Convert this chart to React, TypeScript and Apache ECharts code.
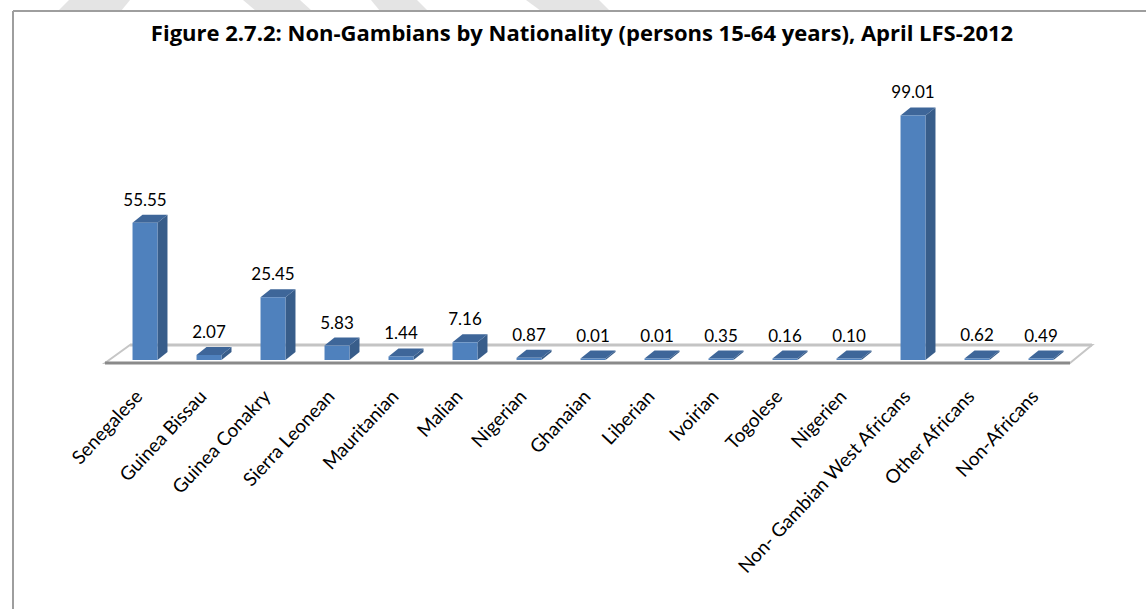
import React, { useEffect, useRef } from "react";
import * as echarts from "echarts";

const categories = [
  "Senegalese",
  "Guinea Bissau",
  "Guinea Conakry",
  "Sierra Leonean",
  "Mauritanian",
  "Malian",
  "Nigerian",
  "Ghanaian",
  "Liberian",
  "Ivoirian",
  "Togolese",
  "Nigerien",
  "Non- Gambian West Africans",
  "Other Africans",
  "Non-Africans",
];

const values = [55.55, 2.07, 25.45, 5.83, 1.44, 7.16, 0.87, 0.01, 0.01, 0.35, 0.16, 0.1, 99.01, 0.62, 0.49];

const titleText = "Figure 2.7.2: Non-Gambians by Nationality (persons 15-64 years), April LFS-2012";

const FONT = "Lato, 'Open Sans', sans-serif";
const TITLE_FONT = "'Open Sans', Lato, sans-serif";

export default function App() {
  const ref = useRef<HTMLDivElement>(null);

  useEffect(() => {
    if (!ref.current) return;
    const chart = echarts.init(ref.current, undefined, { renderer: "svg" });
    const FRONT = "#4F81BD";
    const SIDE = "#385D8A";
    const TOP = "#3E6699";
    const DX = 10;
    const DY = 8;

    const option: any = {
      animation: false,
      backgroundColor: "#ffffff",
      grid: { left: 113, right: 73, top: 113, bottom: 249 },
      xAxis: {
        type: "category",
        data: categories,
        axisLine: { show: false },
        axisTick: { show: false },
        splitLine: { show: false },
        axisLabel: {
          rotate: 47,
          interval: 0,
          margin: 25,
          padding: [0, 10, 0, 0],
          color: "#000",
          fontFamily: FONT,
          fontSize: 19,
        },
      },
      yAxis: {
        type: "value",
        min: 0,
        max: 100,
        show: false,
      },
      graphic: [
        { type: "polygon", shape: { points: [[69, 0], [130, 0], [121, 11], [58, 11]] }, style: { fill: "#E4E4E4" }, silent: true },
        { type: "polygon", shape: { points: [[243, 0], [300, 0], [312, 11], [256, 11]] }, style: { fill: "#E4E4E4" }, silent: true },
        { type: "polygon", shape: { points: [[371, 0], [417, 0], [428, 11], [380, 11]] }, style: { fill: "#E4E4E4" }, silent: true },
        { type: "polygon", shape: { points: [[526, 0], [599, 0], [610, 11], [541, 11]] }, style: { fill: "#E4E4E4" }, silent: true },
        { type: "line", shape: { x1: 13, y1: 11, x2: 1146, y2: 11 }, style: { stroke: "#9E9E9E", lineWidth: 2 }, silent: true },
        { type: "line", shape: { x1: 13, y1: 11, x2: 13, y2: 609 }, style: { stroke: "#9E9E9E", lineWidth: 2 }, silent: true },
        {
          type: "text",
          x: 582,
          y: 32,
          style: {
            text: titleText,
            textAlign: "center",
            textVerticalAlign: "middle",
            font: `bold 22px ${TITLE_FONT}`,
            fill: "#000",
          },
        },
      ],
      series: [
        {
          type: "custom",
          name: "floor",
          data: [[0, 0]],
          silent: true,
          renderItem: (params: any) => {
            const cs = params.coordSys;
            const gx = cs.x;
            const gy = cs.y + cs.height;
            const gr = cs.x + cs.width;
            return {
              type: "group",
              children: [
                {
                  type: "polygon",
                  shape: { points: [[gx - 8, gy + 3], [gx + 17, gy - 15], [gr + 19, gy - 15], [gr - 3, gy + 3]] },
                  style: { fill: "#ffffff", stroke: "#C6C6C6", lineWidth: 2 },
                },
                {
                  type: "line",
                  shape: { x1: gx + 17, y1: gy - 15, x2: gr + 19, y2: gy - 15 },
                  style: { stroke: "#C4C4C4", lineWidth: 3 },
                },
                {
                  type: "line",
                  shape: { x1: gx - 8, y1: gy + 3, x2: gr - 3, y2: gy + 3 },
                  style: { stroke: "#8A8A8A", lineWidth: 3 },
                },
              ],
            };
          },
        },
        {
          type: "custom",
          name: "Non-Gambians",
          data: values.map((v, i) => [i, v]),
          encode: { x: 0, y: 1 },
          renderItem: (params: any, api: any) => {
            const idx = api.value(0);
            const v = api.value(1);
            const base = api.coord([idx, 0]);
            const top = api.coord([idx, v]);
            const bandW = api.size([1, 0])[0];
            const w = bandW * 0.39;
            const x0 = base[0] - w / 2;
            const x1 = base[0] + w / 2;
            const yb = base[1];
            const yt = Math.min(top[1], yb - 1.5);
            return {
              type: "group",
              children: [
                {
                  type: "polygon",
                  shape: { points: [[x1, yb], [x1 + DX, yb - DY], [x1 + DX, yt - DY], [x1, yt]] },
                  style: { fill: SIDE },
                },
                {
                  type: "polygon",
                  shape: { points: [[x0, yt], [x0 + DX, yt - DY], [x1 + DX, yt - DY], [x1, yt]] },
                  style: { fill: TOP },
                },
                {
                  type: "rect",
                  shape: { x: x0, y: yt, width: w, height: yb - yt },
                  style: { fill: FRONT },
                },
                {
                  type: "text",
                  x: base[0],
                  y: yt - DY - 7,
                  style: {
                    text: values[idx].toFixed(2),
                    textAlign: "center",
                    textVerticalAlign: "bottom",
                    font: `17px ${FONT}`,
                    fill: "#000",
                  },
                },
              ],
            };
          },
        },
      ],
    };
    chart.setOption(option);
    return () => chart.dispose();
  }, []);

  return (
    <div
      ref={ref}
      style={{ position: "absolute", left: 0, top: 0, width: 1146, height: 609, background: "#fff" }}
    />
  );
}
